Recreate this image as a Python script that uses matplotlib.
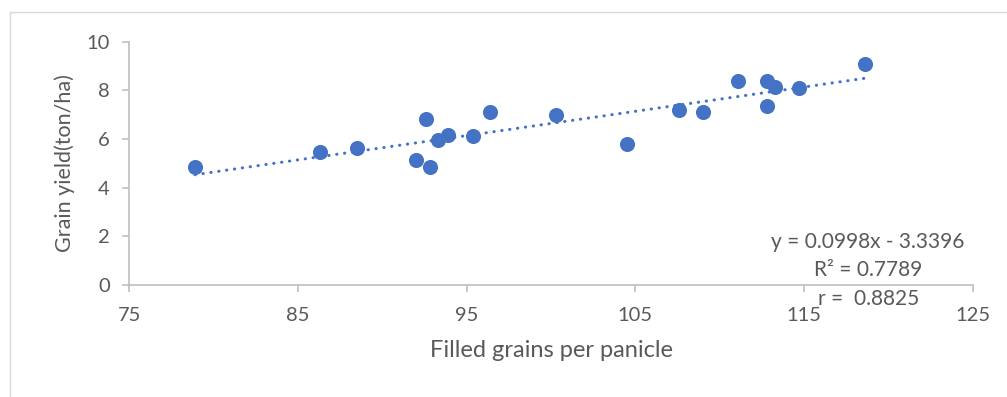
import numpy as np
import matplotlib
matplotlib.use("Agg")
import matplotlib.pyplot as plt
from matplotlib.lines import Line2D

# data
filled_grains = [78.9, 86.3, 88.5, 92.0, 92.6, 92.8, 93.3, 93.9, 95.4, 96.4,
                 100.3, 104.5, 107.6, 109.0, 111.1, 112.8, 113.3, 112.8, 114.7, 118.6]
grain_yield = [4.84, 5.45, 5.64, 5.12, 6.82, 4.84, 5.98, 6.18, 6.14, 7.11,
               7.00, 5.80, 7.20, 7.10, 8.38, 8.40, 8.12, 7.37, 8.08, 9.09]
slope = 0.0998
intercept = -3.3396
eq_lines = ["y = 0.0998x - 3.3396", "R\u00b2 = 0.7789", "r =  0.8825"]
x_ticks = [75, 85, 95, 105, 115, 125]
y_ticks = [0, 2, 4, 6, 8, 10]

blue = '#4472C4'
grey_text = '#595959'
grey_line = '#BFBFBF'

plt.rcParams['font.family'] = ['Lato', 'DejaVu Sans']

fig = plt.figure(figsize=(10.07, 3.97), dpi=100)
ax = fig.add_axes([0.1284, 0.282, 0.8376, 0.613])

# outer chart frame (left and top edges visible)
fig.add_artist(Line2D([0.0099, 0.0099], [0.0, 0.97], transform=fig.transFigure, color='#D9D9D9', lw=1))
fig.add_artist(Line2D([0.0099, 1.0], [0.97, 0.97], transform=fig.transFigure, color='#D9D9D9', lw=1))

# trendline
xs = np.array([min(filled_grains), max(filled_grains)])
ax.plot(xs, slope * xs + intercept, color=blue, lw=2.2, linestyle=(0, (0.1, 2.5)),
        dash_capstyle='round', zorder=2)
ax.scatter(filled_grains, grain_yield, s=118, color=blue, zorder=3, linewidths=0)

ax.set_xlim(75, 125)
ax.set_ylim(0, 10)
ax.set_xticks(x_ticks)
ax.set_yticks(y_ticks)
for side in ['top', 'right']:
    ax.spines[side].set_visible(False)
for side in ['left', 'bottom']:
    ax.spines[side].set_color(grey_line)
    ax.spines[side].set_linewidth(1.2)
ax.tick_params(axis='both', colors=grey_line, labelcolor=grey_text, labelsize=14.5, length=5, width=1.2)
ax.tick_params(axis='y', pad=9)
ax.tick_params(axis='x', pad=11)

ax.set_xlabel('Filled grains per panicle', fontsize=17, color=grey_text, labelpad=11)
ax.set_ylabel('Grain yield(ton/ha)', fontsize=15.5, color=grey_text, labelpad=8)

# trendline equation block
for i, line in enumerate(eq_lines):
    ax.text(0.876, 0.178 - i * 0.118, line, transform=ax.transAxes, ha='center', va='center',
            fontsize=15, color=grey_text)

fig.savefig('out.png', dpi=100)
